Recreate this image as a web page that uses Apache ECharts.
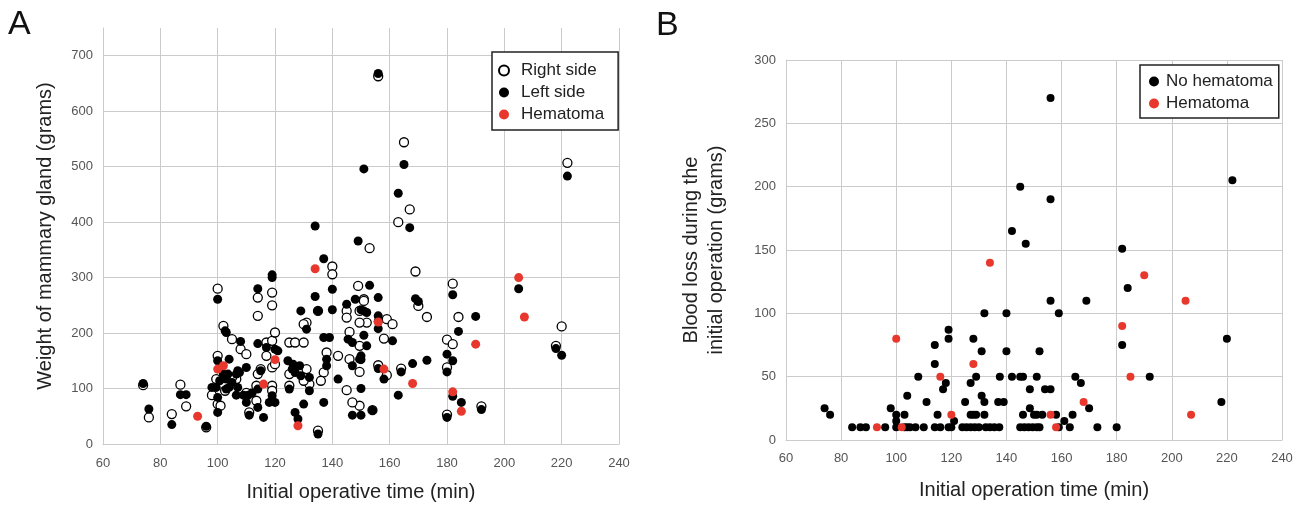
<!DOCTYPE html>
<html>
<head>
<meta charset="utf-8">
<title>Hematoma scatter</title>
<script src="https://cdn.jsdelivr.net/npm/echarts@6/dist/echarts.min.js"></script>
<style>
  html, body { margin: 0; padding: 0; background: #fff; }
  #chart { width: 1303px; height: 507px; }
</style>
</head>
<body>
<div id="chart"></div>
<script>
// panel A: initial operative time (min) vs weight of mammary gland (g)
const rightSide = [
  [156, 663], [165, 544], [222, 507], [167, 423], [163, 400], [169, 311], [140, 320], [140, 306],
  [153, 353], [100, 280], [114, 264], [119, 273], [149, 285], [182, 289], [151, 261], [170, 249],
  [173, 229], [184, 229], [220, 212], [159, 225], [161, 216], [152, 219], [149.5, 219], [158, 190],
  [180, 188], [182, 180], [218, 177], [149.5, 177], [156, 142], [159, 124], [164, 136], [180, 138],
  [149.5, 130], [149.5, 69], [154, 61], [192, 68], [180, 53], [74, 106], [76, 48], [87, 107],
  [89, 68], [84, 54], [96, 30], [119, 250], [114, 231], [102, 213], [105, 189], [108, 171],
  [110, 162], [117, 183], [119, 186], [120, 201], [125, 183], [127, 183], [130, 183], [131, 219],
  [130, 216], [135, 240], [145, 240], [145, 228], [151, 258], [149.5, 240], [146, 202], [142, 159],
  [138, 165], [137, 129], [136, 114], [146, 153], [147, 75], [135, 24], [125, 105], [132, 108],
  [130, 114], [125, 126], [131, 135], [117, 159], [119, 138], [120, 144], [119, 105], [119, 96],
  [115, 135], [114, 126], [113.5, 105], [113.5, 78], [111, 57], [110, 92], [106.5, 117], [105, 120],
  [102.6, 96], [98, 88], [100, 72], [101, 69], [100, 159], [99.5, 117], [145, 97]
];
const leftSide = [
  [156, 668], [165, 504], [151, 496], [163, 452], [167, 390], [134, 393], [149, 366], [137, 334],
  [119, 305], [119, 300], [114, 280], [100, 261], [134, 266], [140, 279], [153, 286], [222, 483],
  [205, 280], [182, 269], [156, 264], [169, 262], [170, 257], [190, 230], [150, 242], [152, 237],
  [156, 231], [156, 221], [156, 208], [151, 196], [161, 186], [184, 203], [218, 172], [220, 160],
  [152, 177], [150, 159], [150, 152], [156, 136], [158, 117], [164, 130], [168, 145], [173, 151],
  [180, 162], [182, 150], [180, 130], [163, 88], [150, 100], [150, 52], [154, 61], [182, 86],
  [185, 75], [192, 62], [180, 48], [74, 109], [76, 63], [87, 89], [89, 89], [84, 35],
  [96, 32], [102.6, 204], [103, 201], [108, 185], [114, 181], [117, 174], [120, 171], [121, 168],
  [131, 207], [129, 240], [135, 240], [140, 242], [145, 252], [148, 261], [151, 240], [137, 192],
  [139, 192], [145.5, 189], [147, 183], [138, 153], [138, 141], [149.5, 153], [147, 141], [142, 117],
  [147, 52], [137, 75], [135, 18], [127, 57], [128, 45], [130, 72], [125, 99], [132, 96],
  [129, 123], [127, 129], [126, 135], [124.5, 150], [126.3, 144], [128.6, 141], [132, 120], [119, 87],
  [120, 75], [118, 75], [114, 99], [115, 132], [114, 66], [111, 52], [116, 48], [110, 75],
  [110, 138], [107.6, 129], [106.5, 126], [105, 111], [104, 102], [103, 99], [107, 102], [106.5, 88],
  [109, 88], [110.6, 88], [112, 92], [99.5, 102], [100, 84], [98, 102], [100, 57], [100, 150],
  [102, 126], [103, 117], [103.6, 126], [104, 153], [100.7, 114], [107, 132]
];
const hematomaA = [
  [93, 50], [100, 135], [102, 141], [116, 108], [120, 152], [128, 33], [134, 316], [156, 220],
  [158, 135], [168, 109], [182, 94], [185, 59], [190, 180], [205, 300], [207, 229]
];

// panel B: initial operation time (min) vs blood loss (g)
const noHematoma = [
  [74, 25], [76, 20], [84, 10], [87, 10], [89, 10], [96, 10], [98, 25], [100, 20], [100, 15],
  [100, 10], [103, 10], [104, 10], [105, 10], [107, 10], [110, 10], [103, 20], [104, 35], [108, 50],
  [111, 30], [114, 10], [116, 10], [114, 75], [114, 60], [115, 20], [117, 40], [118, 45], [119, 87],
  [119, 80], [119, 10], [120, 10], [121, 15], [124, 10], [125.5, 10], [127, 10], [128.5, 10], [130, 10],
  [125, 30], [127, 45], [127, 20], [128, 20], [129, 20], [128, 80], [129, 50], [131, 70], [131, 35],
  [132, 30], [132, 100], [132, 20], [132.5, 10], [134, 10], [135.6, 10], [137.4, 10], [137, 30], [139, 30],
  [137.6, 50], [140, 100], [140, 70], [142, 50], [145, 50], [146, 50], [145, 10], [146.5, 10], [148, 10],
  [149.5, 10], [151, 10], [152, 10], [146, 20], [147, 155], [148.5, 40], [148.5, 25], [182, 151], [184, 120],
  [156, 110], [169, 110], [159, 100], [182, 75], [220, 80], [152, 70], [151, 50], [165, 50], [167, 45],
  [192, 50], [154, 40], [156, 40], [170, 25], [218, 30], [150, 20], [151, 20], [153, 20], [158, 20],
  [164, 20], [161, 15], [159, 10], [163, 10], [173, 10], [180, 10], [156, 270], [145, 200], [156, 190],
  [142, 165], [222, 205]
];
const hematomaB = [
  [93, 10], [100, 80], [102, 10], [116, 50], [120, 20], [128, 60], [134, 140], [156, 20],
  [158, 10], [168, 30], [182, 90], [185, 50], [190, 130], [205, 110], [207, 20]
];

const timeTicks = [60, 240, 20];   // min, max, step
const weightTicks = [0, 750, 100];
const lossTicks = [0, 300, 50];

const gridColor = '#cbcbcb';
const red = '#e8382d';
const font = 'Liberation Sans';

const chart = echarts.init(document.getElementById('chart'), null, { renderer: 'canvas' });

function valueAxis(idx, ticks, extra) {
  return Object.assign({
    type: 'value',
    gridIndex: idx,
    min: ticks[0],
    max: ticks[1],
    interval: ticks[2],
    axisLine: { show: true, onZero: false, lineStyle: { color: gridColor, width: 1 } },
    axisTick: { show: false },
    axisLabel: { color: '#555', fontSize: 13, fontFamily: font, margin: 10 },
    splitLine: { show: true, lineStyle: { color: gridColor, width: 1 } },
    nameLocation: 'middle',
    nameTextStyle: { color: '#222', fontSize: 20, fontFamily: font }
  }, extra);
}

const option = {
  backgroundColor: '#fff',
  animation: false,
  textStyle: { fontFamily: font },
  graphic: [
    { type: 'text', left: 8, top: 8, style: { text: 'A', fontSize: 34, fontFamily: font, fill: '#111' } },
    { type: 'text', left: 656, top: 9, style: { text: 'B', fontSize: 34, fontFamily: font, fill: '#111' } }
  ],
  grid: [
    { left: 103, top: 28, width: 516, height: 417 },
    { left: 786, top: 60, width: 496, height: 380 }
  ],
  legend: [
    {
      orient: 'vertical', left: 492, top: 52,
      data: ['Right side', 'Left side', 'Hematoma'],
      icon: 'circle', itemWidth: 24, itemHeight: 10, itemGap: 5,
      padding: [10, 14, 7, 6],
      borderColor: '#222', borderWidth: 1.5, backgroundColor: '#fff',
      textStyle: { fontSize: 17, color: '#222', fontFamily: font }
    },
    {
      orient: 'vertical', left: 1140, top: 65,
      data: ['No hematoma', 'Hematoma'],
      icon: 'circle', itemWidth: 14, itemHeight: 10, itemGap: 5,
      padding: [8, 6, 6, 9],
      borderColor: '#222', borderWidth: 1.5, backgroundColor: '#fff',
      textStyle: { fontSize: 17, color: '#222', fontFamily: font }
    }
  ],
  xAxis: [
    valueAxis(0, timeTicks, {
      name: 'Initial operative time (min)', nameGap: 38,
      axisLabel: { color: '#555', fontSize: 13, fontFamily: font, margin: 13 }
    }),
    valueAxis(1, timeTicks, {
      name: 'Initial operation time (min)', nameGap: 40,
      axisLabel: { color: '#555', fontSize: 13, fontFamily: font, margin: 12 }
    })
  ],
  yAxis: [
    valueAxis(0, weightTicks, {
      name: 'Weight of mammary gland (grams)', nameGap: 48,
      axisLabel: { color: '#555', fontSize: 13, fontFamily: font, margin: 10, showMaxLabel: false },
      splitLine: { show: true, showMaxLine: false, lineStyle: { color: gridColor, width: 1 } }
    }),
    valueAxis(1, lossTicks, {
      name: 'Blood loss during the\ninitial operation (grams)', nameGap: 57,
      nameTextStyle: { color: '#222', fontSize: 20, fontFamily: font, lineHeight: 25 }
    })
  ],
  series: [
    {
      name: 'Right side', type: 'scatter', xAxisIndex: 0, yAxisIndex: 0,
      symbolSize: 9, data: rightSide,
      itemStyle: { color: '#fff', borderColor: '#000', borderWidth: 1.3, opacity: 1 }
    },
    {
      name: 'Left side', type: 'scatter', xAxisIndex: 0, yAxisIndex: 0,
      symbolSize: 9, data: leftSide,
      itemStyle: { color: '#000', opacity: 1 }
    },
    {
      name: 'Hematoma', type: 'scatter', xAxisIndex: 0, yAxisIndex: 0,
      symbolSize: 9, data: hematomaA,
      itemStyle: { color: red, opacity: 1 }
    },
    {
      name: 'No hematoma', type: 'scatter', xAxisIndex: 1, yAxisIndex: 1,
      symbolSize: 8, data: noHematoma,
      itemStyle: { color: '#000', opacity: 1 }
    },
    {
      name: 'Hematoma', type: 'scatter', xAxisIndex: 1, yAxisIndex: 1,
      symbolSize: 8, data: hematomaB,
      itemStyle: { color: red, opacity: 1 }
    }
  ]
};

chart.setOption(option);
</script>
</body>
</html>
